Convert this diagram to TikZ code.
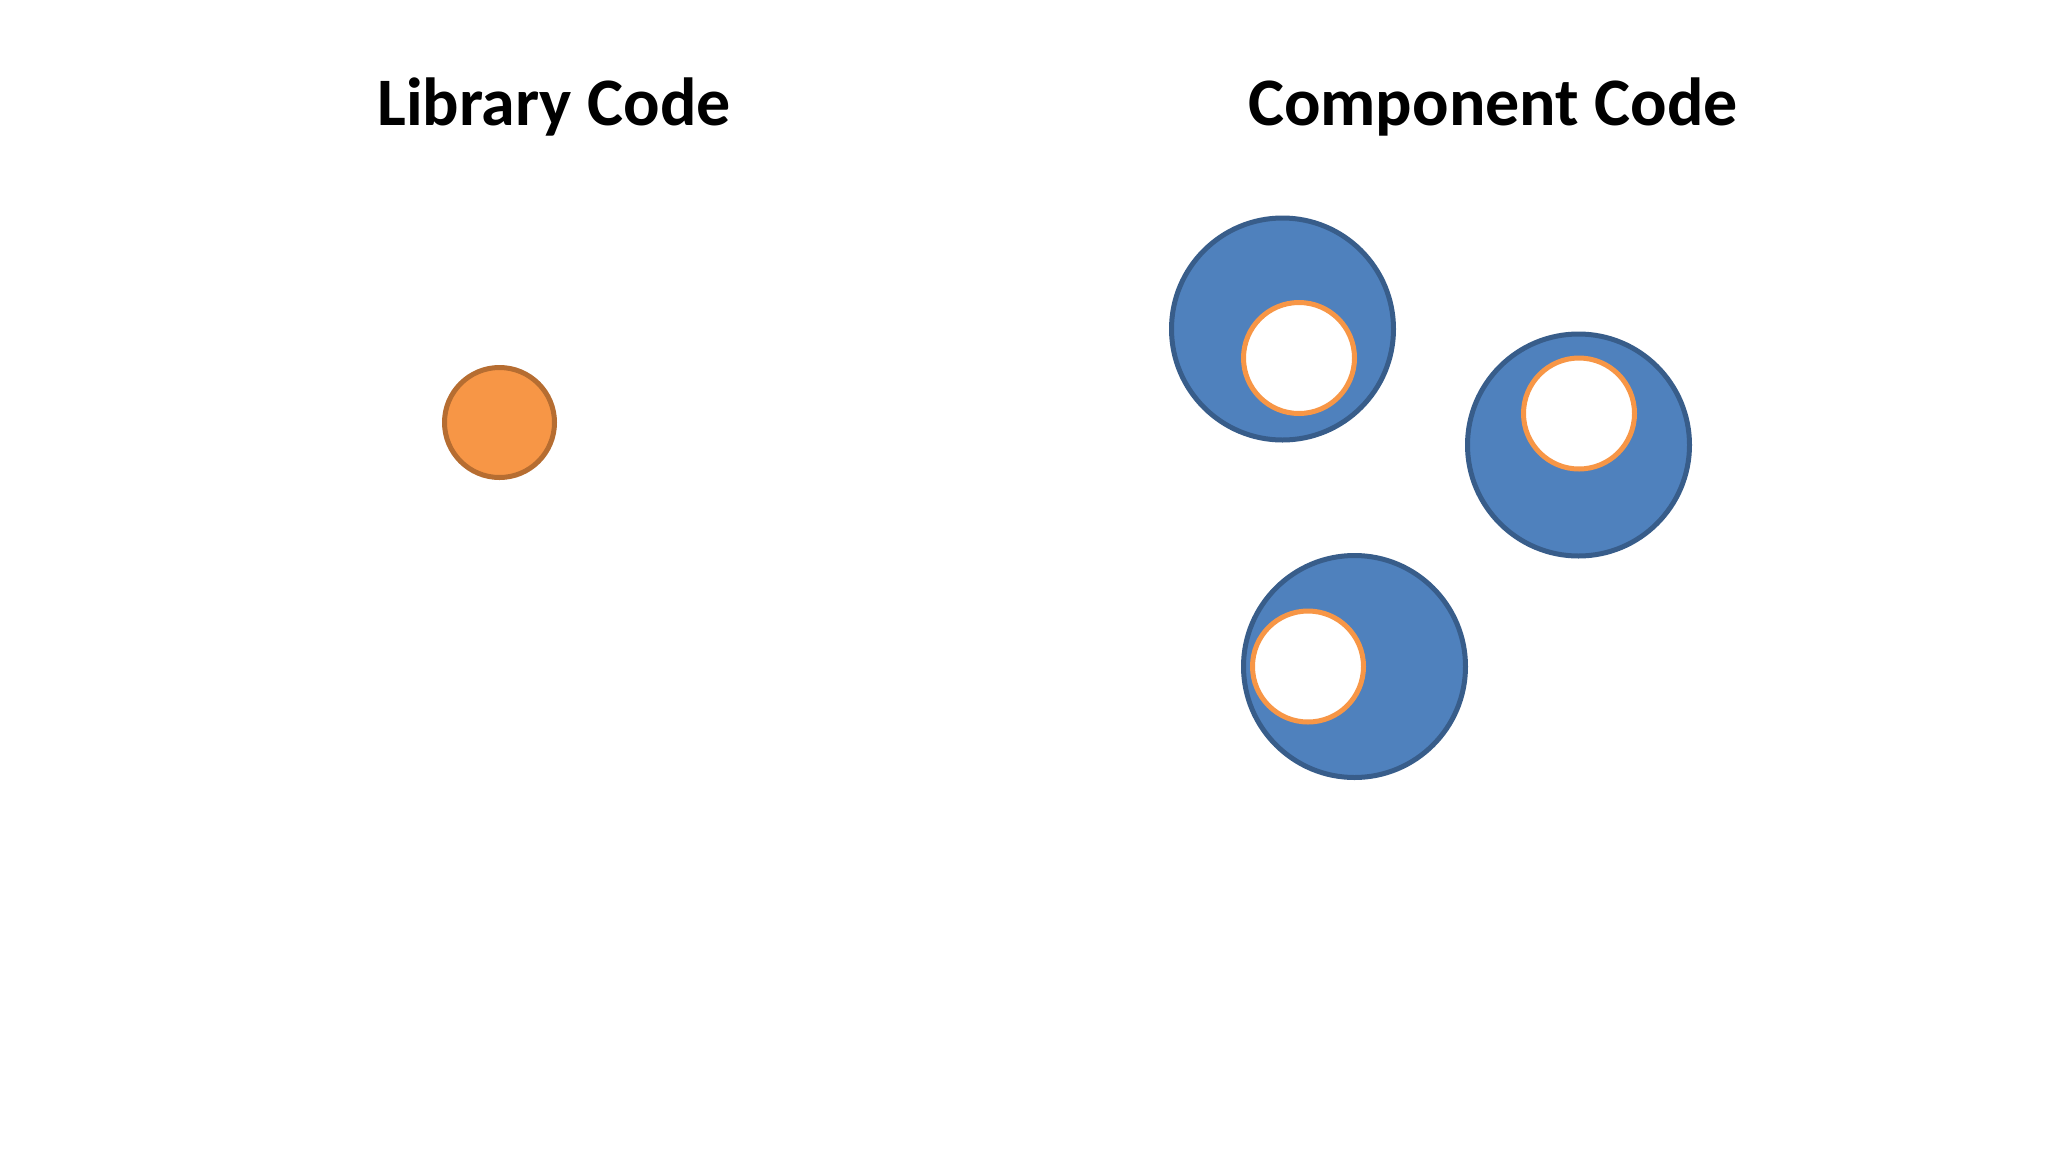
\documentclass[tikz,border=0pt]{standalone}
\usepackage{fontspec}
\setmainfont{Carlito}
\definecolor{blueFill}{HTML}{4F81BD}
\definecolor{blueLine}{HTML}{385D8A}
\definecolor{orFill}{HTML}{F79646}
\definecolor{orLine}{HTML}{B66D31}
\begin{document}
\begin{tikzpicture}[x=1pt,y=-1pt,
  title/.style={font=\fontsize{68}{80}\selectfont\bfseries, anchor=base, inner sep=0},
  comp/.style={circle, inner sep=0, minimum size=222pt, draw=blueLine, fill=blueFill, line width=5pt},
  hole/.style={circle, inner sep=0, minimum size=111pt, draw=orFill, fill=white, line width=5pt},
  lib/.style={circle, inner sep=0, minimum size=110pt, draw=orLine, fill=orFill, line width=5pt}]
\useasboundingbox[fill=white] (0,0) rectangle (2048,1152);
\node[title] (t1) at (554,125) {Library Code};
\node[title] (t2) at (1493,125) {Component Code};
\node[lib] (l) at (499.5,422.5) {};
\node[comp] (c1) at (1282.5,329) {};
\node[hole] (h1) at (1299,358) {};
\node[comp] (c2) at (1578.5,445) {};
\node[hole] (h2) at (1579,413.5) {};
\node[comp] (c3) at (1354.5,666.5) {};
\node[hole] (h3) at (1308,666.5) {};
\end{tikzpicture}
\end{document}
